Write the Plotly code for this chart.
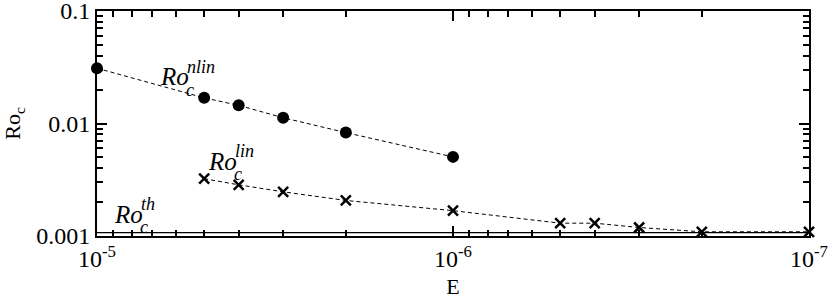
import plotly.graph_objects as go
import math

# Data
E_nlin = [1e-5, 5e-6, 4e-6, 3e-6, 2e-6, 1e-6]
Ro_nlin = [0.031, 0.0169, 0.0145, 0.01125, 0.0083, 0.00505]

E_lin = [5e-6, 4e-6, 3e-6, 2e-6, 1e-6, 5e-7, 4e-7, 3e-7, 2e-7, 1e-7]
Ro_lin = [0.00323, 0.00285, 0.00247, 0.00207, 0.00168, 0.0013, 0.0013, 0.00119, 0.00109, 0.00109]

E_th = [1e-5, 1e-7]
Ro_th = [0.00107, 0.00107]

x_tickvals = [1e-5, 1e-6, 1e-7]
x_ticktext = ["10<sup>-5</sup>", "10<sup>-6</sup>", "10<sup>-7</sup>"]
y_tickvals = [0.001, 0.01, 0.1]
y_ticktext = ["0.001", "0.01", "0.1"]

x_minor = [m * 10.0 ** e for e in (-6, -7) for m in range(2, 10)]
y_minor = [m * 10.0 ** e for e in (-3, -2) for m in range(2, 10)]

FONT = "Liberation Serif"

fig = go.Figure()
fig.add_trace(go.Scatter(x=E_th, y=Ro_th, mode="lines",
                         line=dict(color="black", width=1.2), cliponaxis=False))
fig.add_trace(go.Scatter(x=E_nlin, y=Ro_nlin, mode="lines+markers",
                         line=dict(color="black", width=1, dash="4px,3px"),
                         marker=dict(symbol="circle", size=12, color="black"),
                         cliponaxis=False))
fig.add_trace(go.Scatter(x=E_lin, y=Ro_lin, mode="lines+markers",
                         line=dict(color="black", width=1, dash="4px,3px"),
                         marker=dict(symbol="x-thin", size=10, color="black",
                                     line=dict(color="black", width=2.5)),
                         cliponaxis=False))

def lbl(x, y, main, sub, sup):
    # stacked subscript/superscript label in data coordinates (pixel-estimated positions)
    lx, ly = math.log10(x), math.log10(y)
    fig.add_annotation(x=lx, y=ly, text="<i>" + main + "</i>", showarrow=False,
                       xanchor="left", yanchor="middle",
                       font=dict(family=FONT, size=25, color="black"))
    fig.add_annotation(x=lx, y=ly, text="<i>" + sub + "</i>", showarrow=False,
                       xanchor="left", yanchor="middle", xshift=26, yshift=-13,
                       font=dict(family=FONT, size=18, color="black"))
    fig.add_annotation(x=lx, y=ly, text="<i>" + sup + "</i>", showarrow=False,
                       xanchor="left", yanchor="middle", xshift=27, yshift=10,
                       font=dict(family=FONT, size=18, color="black"))

lbl(10 ** (-5 - (158 - 97) / 356), 10 ** (-1 - (76 - 10) / 113), "Ro", "c", "nlin")
lbl(10 ** (-5 - (206 - 97) / 356), 10 ** (-1 - (161 - 10) / 113), "Ro", "c", "lin")
lbl(10 ** (-5 - (112 - 97) / 356), 10 ** (-1 - (214 - 10) / 113), "Ro", "c", "th")

axis_common = dict(showgrid=False, zeroline=False, showline=True, linecolor="black",
                   linewidth=2, mirror="ticks", ticks="inside", tickcolor="black",
                   tickwidth=1.5, ticklen=10, ticklabeloverflow="allow",
                   tickfont=dict(family=FONT, size=24, color="black"))

fig.update_xaxes(type="log", range=[-5, -7], tickmode="array", tickvals=x_tickvals,
                 ticktext=x_ticktext,
                 minor=dict(tickmode="array", tickvals=x_minor, ticks="inside",
                            ticklen=6, tickwidth=1.5, tickcolor="black", showgrid=False),
                 title=dict(text="E", font=dict(family=FONT, size=22, color="black"),
                            standoff=9),
                 **axis_common)
fig.update_yaxes(type="log", range=[-3, -1], tickmode="array", tickvals=y_tickvals,
                 ticktext=y_ticktext,
                 minor=dict(tickmode="array", tickvals=y_minor, ticks="inside",
                            ticklen=6, tickwidth=1.5, tickcolor="black", showgrid=False),
                 title=dict(text="Ro<sub>c</sub>", font=dict(family=FONT, size=22, color="black"),
                            standoff=18),
                 **axis_common)

fig.update_layout(width=830, height=299, showlegend=False,
                  margin=dict(l=97, r=21, t=11, b=63, autoexpand=False),
                  plot_bgcolor="white", paper_bgcolor="white")

# remove the page's default body margin so the figure sits at the window's top-left corner
fig.write_html("out.html", config={"displayModeBar": False},
               post_script="document.body.style.margin='0';")
